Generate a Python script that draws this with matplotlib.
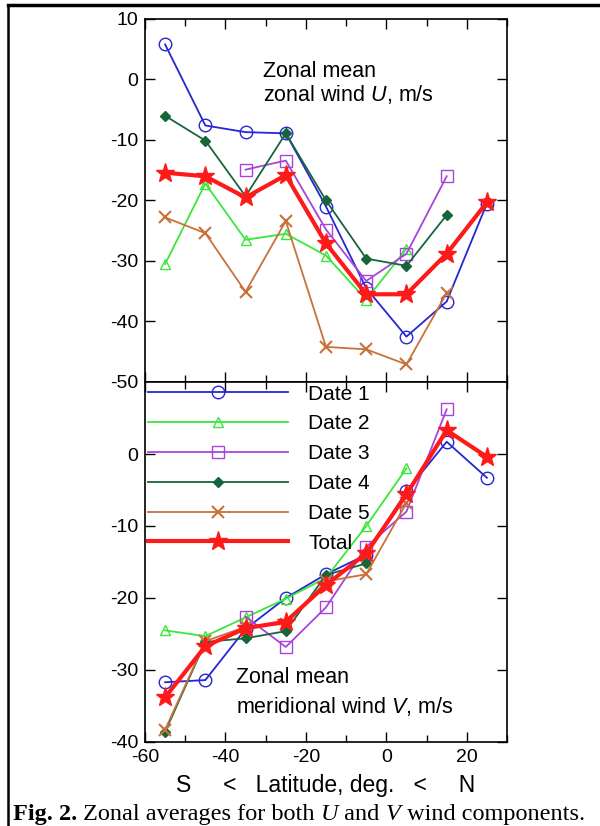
import matplotlib
matplotlib.use("Agg")
import matplotlib.pyplot as plt
from matplotlib.lines import Line2D
from matplotlib.ticker import MultipleLocator

plt.rcParams['font.family'] = ['Liberation Sans', 'DejaVu Sans']
plt.rcParams['mathtext.fontset'] = 'custom'
plt.rcParams['mathtext.it'] = 'Liberation Sans:italic'
plt.rcParams['mathtext.rm'] = 'Liberation Sans'
plt.rcParams['axes.unicode_minus'] = False

# latitude bins (deg)
lat = [-55, -45, -35, -25, -15, -5, 5, 15, 25]

# zonal wind U, m/s (None = no data)
u_date1 = [5.8, -7.6, -8.7, -8.9, -21.0, -34.5, -42.5, -36.7, -20.5]
u_date2 = [-30.5, -17.2, -26.5, -25.5, -29.1, -36.4, -28.0, None, None]
u_date3 = [None, None, -14.9, -13.4, -24.8, -33.3, -28.8, -16.0, None]
u_date4 = [-6.0, -10.1, -19.3, -8.9, -20.0, -29.6, -30.8, -22.4, None]
u_date5 = [-22.8, -25.4, -35.1, -23.4, -44.2, -44.6, -47.1, -35.3, None]
u_total = [-15.4, -16.0, -19.5, -15.8, -27.1, -35.5, -35.5, -28.8, -20.3]

# meridional wind V, m/s
v_date1 = [-31.7, -31.4, -24.3, -20.0, -16.7, -14.0, -5.2, 1.7, -3.3]
v_date2 = [-24.5, -25.3, -22.7, -20.1, -17.2, -10.0, -2.0, None, None]
v_date3 = [None, None, -22.6, -26.8, -21.3, -12.9, -8.0, 6.2, None]
v_date4 = [-38.6, -26.1, -25.6, -24.6, -16.8, -15.2, None, None, None]
v_date5 = [-38.3, -26.0, -24.0, -23.6, -17.7, -16.7, -6.8, None, None]
v_total = [-33.8, -26.7, -24.2, -23.3, -18.2, -13.8, -5.6, 3.3, -0.4]

labels = ["Date 1", "Date 2", "Date 3", "Date 4", "Date 5", "Total"]

styles = [
    dict(color='#2626d4', marker='o', mfc='none', ms=9, lw=1.3, mew=1.0),
    dict(color='#3ce63c', marker='^', mfc='none', ms=7, lw=1.3, mew=1.0),
    dict(color='#a844dc', marker='s', mfc='none', ms=8, lw=1.3, mew=1.0),
    dict(color='#17663a', marker='D', ms=5, lw=1.3),
    dict(color='#c8713a', marker='x', ms=8, lw=1.3, mew=1.5),
    dict(color='#ff1a1a', marker='*', ms=14, lw=3.0),
]


def xy(vals):
    pts = [(x, v) for x, v in zip(lat, vals) if v is not None]
    return [p[0] for p in pts], [p[1] for p in pts]


def setup_axis(ax):
    ax.set_xlim(-60, 30)
    ax.xaxis.set_major_locator(MultipleLocator(20))
    ax.xaxis.set_minor_locator(MultipleLocator(10))
    ax.yaxis.set_major_locator(MultipleLocator(10))
    ax.tick_params(which='both', direction='in', top=True, right=True,
                   labelsize=14, width=1.0)
    ax.tick_params(which='major', length=7, pad=5)
    ax.tick_params(which='minor', length=5)
    for s in ax.spines.values():
        s.set_linewidth(1.2)


fig = plt.figure(figsize=(6.0, 8.26), dpi=100)
W, H = 600.0, 826.0
axU = fig.add_axes([145 / W, 1 - 382 / H, 362 / W, 363 / H])
axV = fig.add_axes([145 / W, 1 - 742 / H, 362 / W, 360 / H])

for data, st, lab in zip([u_date1, u_date2, u_date3, u_date4, u_date5, u_total],
                         styles, labels):
    x, y = xy(data)
    axU.plot(x, y, label=lab, **st)

for data, st, lab in zip([v_date1, v_date2, v_date3, v_date4, v_date5, v_total],
                         styles, labels):
    x, y = xy(data)
    axV.plot(x, y, label=lab, **st)

setup_axis(axU)
setup_axis(axV)
axU.set_ylim(-50, 10)
axV.set_ylim(-40, 10)
axU.tick_params(labelbottom=False)
axV.set_yticks([0, -10, -20, -30, -40])

# panel annotations (baselines placed in figure pixels)
fig.text(263 / W, 1 - 77 / H, "Zonal mean", fontsize=15.5, va='baseline')
fig.text(263 / W, 1 - 101 / H, "zonal wind $\\it{U}$, m/s", fontsize=15.5, va='baseline')
fig.text(236 / W, 1 - 683 / H, "Zonal mean", fontsize=15.5, va='baseline')
fig.text(236 / W, 1 - 713 / H, "meridional wind $\\it{V}$, m/s", fontsize=15.5, va='baseline')

axV.legend(loc='upper left', bbox_to_anchor=(3 / 362, 0.993), frameon=False,
           fontsize=15, handlelength=6.7, handletextpad=1.0, labelspacing=0.52,
           borderaxespad=0.0, borderpad=0.0)

axV.set_xlabel("S     <   Latitude, deg.   <     N", fontsize=16.5, labelpad=6)

# outer frame (top and left only)
fig.add_artist(Line2D([8 / W, 1.0], [1 - 5 / H, 1 - 5 / H], color='black', lw=2.5))
fig.add_artist(Line2D([8 / W, 8 / W], [0, 1 - 5 / H], color='black', lw=1.8))

# caption built from pieces (bold / regular / italic)
parts = [("Fig. 2.", dict(weight='bold')), (" Zonal averages for both ", {}),
         ("U", dict(style='italic')), (" and ", {}), ("V", dict(style='italic')),
         (" wind components.", {})]
renderer = fig.canvas.get_renderer()
xpos = 13 / W
for s, kw in parts:
    t = fig.text(xpos, 1 - 820 / H, s, family='Liberation Serif', fontsize=17.5,
                 ha='left', va='baseline', **kw)
    bb = t.get_window_extent(renderer=renderer)
    xpos += bb.width / W

fig.savefig("out.png", dpi=100)
